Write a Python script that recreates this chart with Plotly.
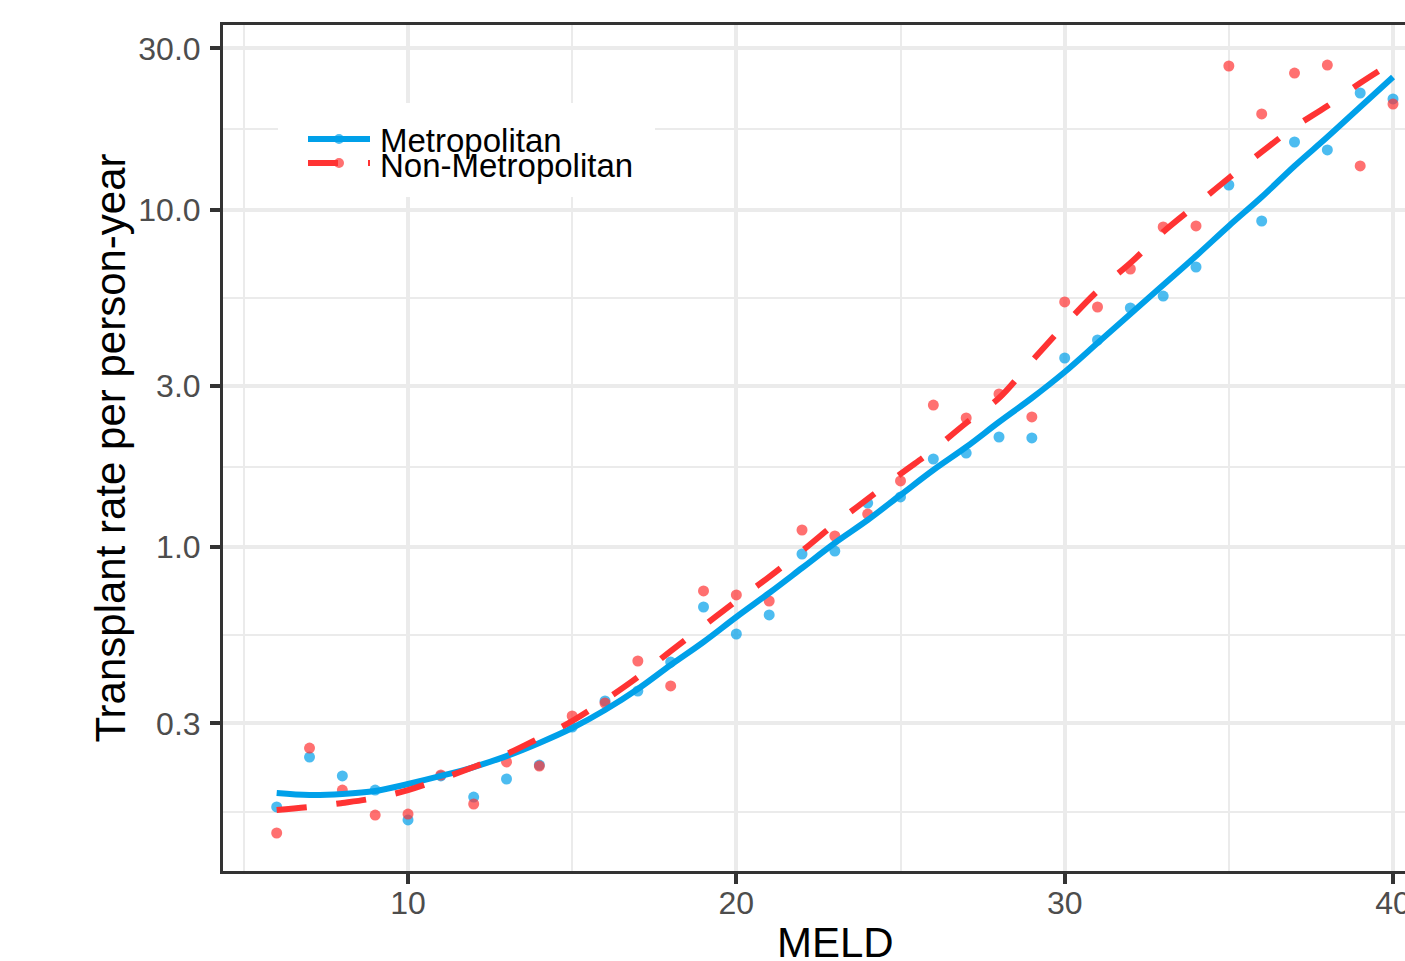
import plotly.graph_objects as go

# ---------------- data ----------------
meld = list(range(6, 41))

metro_points = [0.1697, 0.2386, 0.2097, 0.1905, 0.1553, 0.2097, 0.1816, 0.2054, 0.2259, 0.2928,
                0.3497, 0.3744, 0.4562, 0.6641, 0.5524, 0.6289, 0.9534, 0.9730, 1.350, 1.407,
                1.823, 1.898, 2.118, 2.104, 3.631, 4.105, 5.107, 5.541, 6.755, 11.82,
                9.246, 15.85, 15.01, 22.14, 21.26]

nonmetro_points = [0.1421, 0.2537, 0.1905, 0.1606, 0.1617, 0.2111, 0.1732, 0.2307, 0.2244, 0.3157,
                   0.3450, 0.4594, 0.3875, 0.7408, 0.7209, 0.6918, 1.123, 1.078, 1.252, 1.569,
                   2.634, 2.411, 2.840, 2.428, 5.321, 5.142, 6.664, 8.875, 8.937, 26.62,
                   19.19, 25.37, 26.80, 13.46, 20.54]

metro_smooth = [0.1867, 0.1842, 0.1854, 0.1892, 0.1985, 0.2097, 0.2229, 0.2402, 0.2627, 0.2908,
                0.3289, 0.3796, 0.4471, 0.5231, 0.6203, 0.7307, 0.8665, 1.028, 1.202, 1.426,
                1.691, 1.978, 2.346, 2.764, 3.301, 4.022, 4.902, 5.974, 7.282, 8.937,
                10.89, 13.46, 16.40, 20.13, 24.70]

nonmetro_smooth = [0.1663, 0.1697, 0.1744, 0.1804, 0.1905, 0.2054, 0.2229, 0.2435, 0.2716, 0.3051,
                   0.3521, 0.4118, 0.4918, 0.5833, 0.6918, 0.8151, 0.9730, 1.170, 1.388, 1.646,
                   1.939, 2.330, 2.764, 3.557, 4.549, 5.734, 6.942, 8.578, 10.31, 12.40,
                   14.81, 17.56, 20.26, 23.71, 27.35]

series_names = ["Metropolitan", "Non-Metropolitan"]

y_tickvals = [0.3, 1, 3, 10, 30]
y_ticktext = ["0.3", "1.0", "3.0", "10.0", "30.0"]
y_minor = [0.1643, 0.5477, 1.732, 5.477, 17.32]
x_tickvals = [10, 20, 30, 40]
x_ticktext = ["10", "20", "30", "40"]
x_minor = [5, 15, 25, 35]

# ---------------- styling ----------------
W, H = 1405, 961
L, R, T, B = 223, 0, 25, 90
PW, PH = W - L - R, H - T - B

BLUE_LINE = "#00A0E9"
RED_LINE = "#FF3333"
BLUE_PT = "rgba(0,160,233,0.7)"
RED_PT = "rgba(255,51,51,0.7)"
FONT = "Arial, 'Liberation Sans', sans-serif"
GRID = "#EBEBEB"
DARK = "#333333"


def px(xp):
    return (xp - L) / PW


def py(yp):
    return (H - B - yp) / PH


fig = go.Figure()

fig.add_trace(go.Scatter(x=meld, y=metro_points, mode="markers", showlegend=False,
                         marker=dict(size=11, color=BLUE_PT, line=dict(width=0))))
fig.add_trace(go.Scatter(x=meld, y=nonmetro_points, mode="markers", showlegend=False,
                         marker=dict(size=11, color=RED_PT, line=dict(width=0))))
fig.add_trace(go.Scatter(x=meld, y=metro_smooth, mode="lines", name=series_names[0], showlegend=False,
                         line=dict(color=BLUE_LINE, width=6, shape="spline")))
fig.add_trace(go.Scatter(x=meld, y=nonmetro_smooth, mode="lines", name=series_names[1], showlegend=False,
                         line=dict(color=RED_LINE, width=6, shape="spline", dash="30px,30px")))

fig.update_layout(
    width=W, height=H,
    margin=dict(l=L, r=R, t=T, b=B, pad=0),
    paper_bgcolor="white", plot_bgcolor="white",
    font=dict(family=FONT),
    showlegend=False,
)

fig.update_xaxes(
    automargin=False,
    range=[4.365, 40.365], tickmode="array", tickvals=x_tickvals, ticktext=x_ticktext,
    showgrid=True, gridcolor=GRID, gridwidth=4, zeroline=False,
    showline=True, linecolor=DARK, linewidth=3, mirror=True,
    ticks="outside", ticklen=10, tickwidth=4, tickcolor=DARK,
    tickfont=dict(size=32, color="#4D4D4D", family=FONT),
    ticklabeloverflow="allow", ticklabelstandoff=-8,
    minor=dict(tickmode="array", tickvals=x_minor, showgrid=True, gridcolor=GRID, gridwidth=2, ticks=""),
)
fig.update_yaxes(
    automargin=False,
    type="log", range=[-0.96, 1.5467], tickmode="array", tickvals=y_tickvals, ticktext=y_ticktext,
    showgrid=True, gridcolor=GRID, gridwidth=4, zeroline=False,
    showline=True, linecolor=DARK, linewidth=3, mirror=False,
    ticks="outside", ticklen=10, tickwidth=4, tickcolor=DARK,
    tickfont=dict(size=32, color="#4D4D4D", family=FONT),
    ticklabelstandoff=3,
    minor=dict(tickmode="array", tickvals=y_minor, showgrid=True, gridcolor=GRID, gridwidth=2, ticks=""),
    title=dict(text="Transplant rate per person-year", font=dict(size=42, color="black", family=FONT),
               standoff=0),
)

# x-axis title
fig.add_annotation(text="MELD", xref="paper", yref="paper", x=px(835), y=py(942),
                   xanchor="center", yanchor="middle", showarrow=False,
                   font=dict(size=42, color="black", family=FONT))

# legend (drawn manually inside the panel)
fig.add_shape(type="rect", xref="paper", yref="paper", x0=px(278), x1=px(655), y0=py(197), y1=py(103),
              fillcolor="white", line=dict(width=0), layer="above")
fig.add_shape(type="line", xref="paper", yref="paper", x0=px(308), x1=px(370), y0=py(139), y1=py(139),
              line=dict(color=BLUE_LINE, width=6), layer="above")
fig.add_shape(type="line", xref="paper", yref="paper", x0=px(308), x1=px(370), y0=py(163), y1=py(163),
              line=dict(color=RED_LINE, width=6, dash="30px,30px"), layer="above")
fig.add_shape(type="circle", xref="paper", yref="paper", x0=px(334), x1=px(344), y0=py(144), y1=py(134),
              fillcolor=BLUE_PT, line=dict(width=0), layer="above")
fig.add_shape(type="circle", xref="paper", yref="paper", x0=px(334), x1=px(344), y0=py(168), y1=py(158),
              fillcolor=RED_PT, line=dict(width=0), layer="above")
for name, yc in zip(series_names, [140, 165]):
    fig.add_annotation(text=name, xref="paper", yref="paper", x=px(378), y=py(yc),
                       xanchor="left", yanchor="middle", showarrow=False,
                       font=dict(size=33, color="black", family=FONT))

fig.write_html("out.html", config={"displayModeBar": False},
               post_script="document.body.style.margin='0';")
